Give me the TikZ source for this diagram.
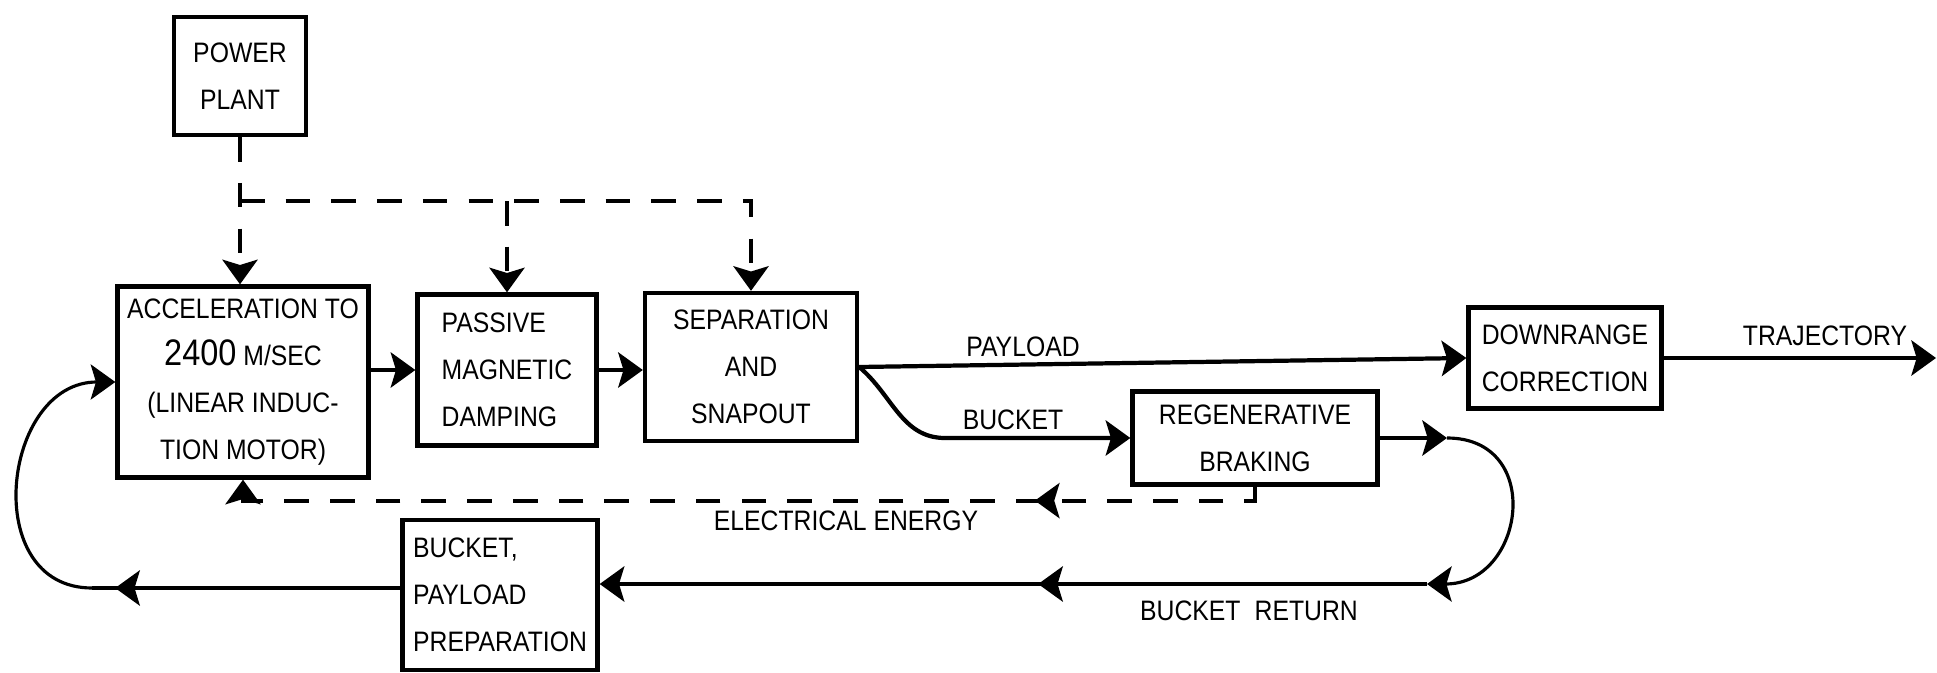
\documentclass[tikz,border=0pt]{standalone}
\usepackage{fontspec}
\setmainfont{Liberation Sans}[FakeStretch=0.88]
\usetikzlibrary{positioning,arrows.meta,decorations.markings}

\begin{document}
\begin{tikzpicture}[x=0.01cm, y=-0.01cm, font=\fontsize{8}{13.4}\selectfont,
  >={Stealth[length=7pt,width=10pt,inset=1.5pt]},
  blk/.style={draw, line width=1.2pt, inner sep=2pt, align=center},
  flow/.style={line width=1.2pt},
  supply/.style={line width=1.1pt, dash pattern=on 7pt off 6pt},
  loopline/.style={line width=0.9pt},
  lbl/.style={inner sep=0pt},
  midarrow/.style={postaction={decorate}, decoration={markings, mark=at position #1 with {\arrow{>}}}}]
\useasboundingbox (0,0) rectangle (1937,673);
% blocks
\node[blk, minimum width=1.32cm, minimum height=1.18cm] (power) at (240,76) {POWER\\PLANT};
\node[blk, minimum width=2.51cm, minimum height=1.91cm] (accel) at (243,382)
  {ACCELERATION TO\\{\fontsize{10.5}{13.4}\selectfont 2400} M/SEC\\(LINEAR INDUC-\\TION MOTOR)};
\node[blk, align=left, minimum width=1.79cm, minimum height=1.51cm] (passive) at (507,370) {PASSIVE\\MAGNETIC\\DAMPING};
\node[blk, minimum width=2.12cm, minimum height=1.48cm] (separ) at (751,367) {SEPARATION\\AND\\SNAPOUT};
\node[blk, minimum width=2.45cm, minimum height=0.93cm] (regen) at (1255,438) {REGENERATIVE\\BRAKING};
\node[blk, align=left, minimum width=1.93cm, minimum height=1.01cm] (down) at (1565,358) {DOWNRANGE\\CORRECTION};
\node[blk, align=left, minimum width=1.95cm, minimum height=1.50cm] (bucket) at (500,595) {BUCKET,\\PAYLOAD\\PREPARATION};
% power distribution
\coordinate (jn) at (power.south |- 0,201);
\draw[supply,->] (power.south) -- (power.south |- accel.north);
\draw[supply,->] (jn) -| (separ.north);
\draw[supply,->] (jn -| passive.north) -- (passive.north);
% main line
\draw[flow,->] (accel.east |- passive.west) -- (passive.west);
\draw[flow,->] (passive.east) -- (passive.east -| separ.west);
\draw[flow,->] (separ.east) -- (down.west);
\node[lbl] (lpay) at (1023,347) {PAYLOAD};
\coordinate (bk) at (945,438);
\draw[flow,->] (separ.east) to[out=-40,in=180] (bk) -- (regen.west);
\node[lbl] (lbuck) at (1013,420) {BUCKET};
\coordinate (traj) at (1936,358);
\draw[flow,->] (down.east) -- (traj);
\node[lbl] (ltraj) at (1825,336) {TRAJECTORY};
% bucket return loop
\coordinate (rl1) at (1447,438);
\coordinate (rl2) at (1427,584);
\draw[flow,->] (regen.east) -- (rl1);
\draw[loopline,->] (rl1) to[out=0,in=0,looseness=1.7] (rl2);
\draw[flow,midarrow=0.47,->] (rl2) -- (rl2 -| bucket.east);
\node[lbl] (lret) at (1249,611) {BUCKET\enspace RETURN};
\coordinate (ll) at (92,588);
\draw[flow,midarrow=2.85cm] (bucket.west |- ll) -- (ll);
\draw[loopline,->] (ll) to[out=180,in=180,looseness=1.4] (accel.west);
% energy recovered
\draw[supply,->,midarrow=2.34cm] (regen.south) -- ++(0,14) -| (accel.south);
\node[lbl] (lelec) at (846,521) {ELECTRICAL ENERGY};
\end{tikzpicture}
\end{document}
